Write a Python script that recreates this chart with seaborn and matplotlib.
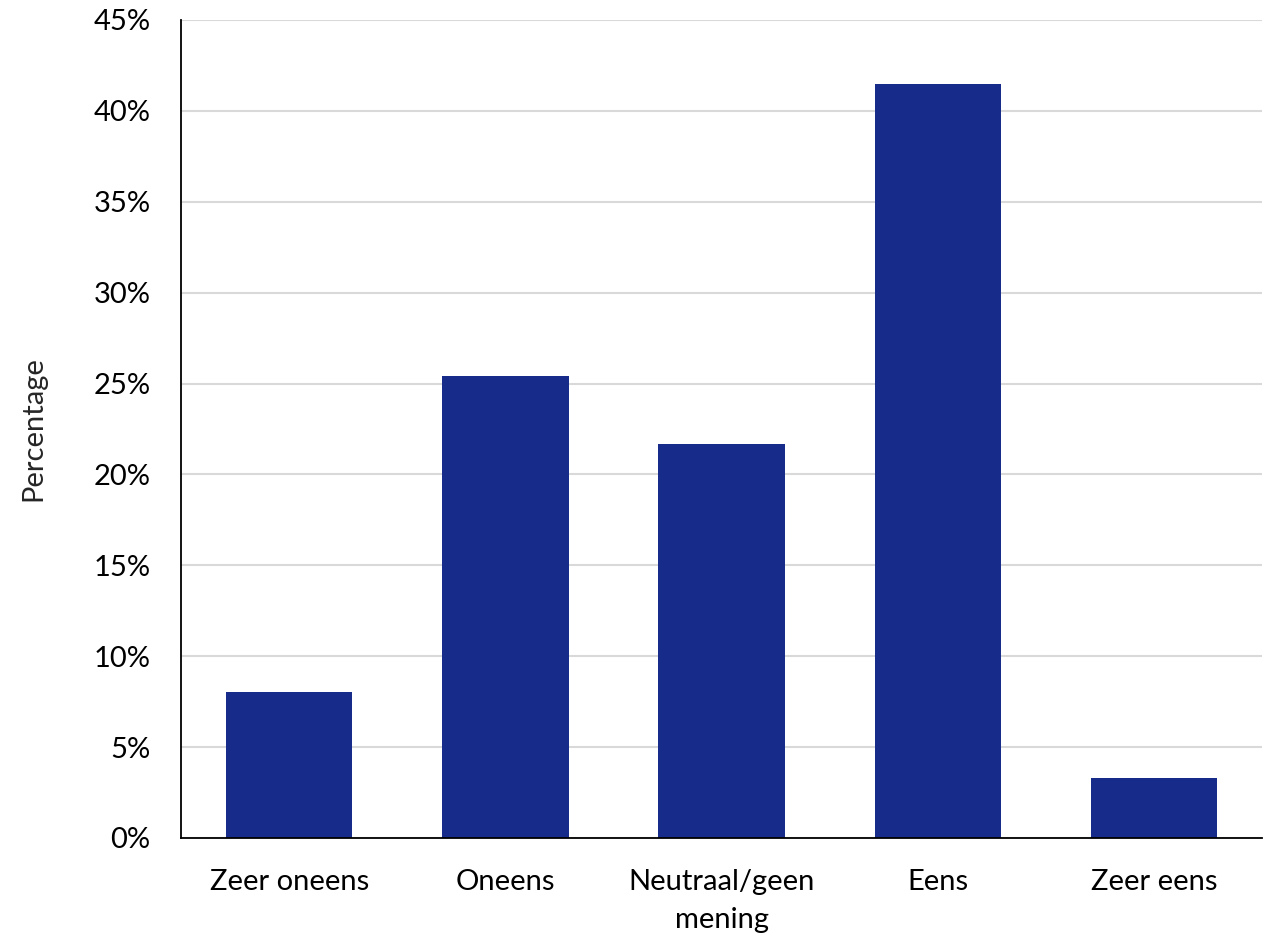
import matplotlib
matplotlib.use("Agg")
import matplotlib.pyplot as plt
import seaborn as sns
import pandas as pd
from matplotlib.ticker import PercentFormatter, MultipleLocator

categories = ["Zeer oneens", "Oneens", "Neutraal/geen\nmening", "Eens", "Zeer eens"]
values = [8.05, 25.4, 21.7, 41.5, 3.3]

sns.set_style("white")
plt.rcParams['font.family'] = ['Lato', 'DejaVu Sans']

df = pd.DataFrame({"cat": categories, "val": values})

fig = plt.figure(figsize=(12.66, 9.34), dpi=100)
ax = fig.add_axes([0.143, 0.1028, 0.854, 0.8758])
sns.barplot(data=df, x="cat", y="val", color="#172B8A", saturation=1, width=0.585,
            linewidth=0, ax=ax)

ax.set_ylim(0, 45)
ax.set_xlim(-0.5, 4.5)
ax.yaxis.set_major_locator(MultipleLocator(5))
ax.yaxis.set_major_formatter(PercentFormatter(decimals=0))
ax.grid(axis="y", color="#d9d9d9", linewidth=1.5)
ax.set_axisbelow(True)
for s in ["top", "right"]:
    ax.spines[s].set_visible(False)
for s in ["left", "bottom"]:
    ax.spines[s].set_color("black")
    ax.spines[s].set_linewidth(1.3)
ax.tick_params(axis="both", length=0, labelsize=21, colors="black")
ax.tick_params(axis="y", pad=22)
ax.tick_params(axis="x", pad=22)
for lbl in ax.get_xticklabels():
    lbl.set_linespacing(1.6)
ax.set_xlabel("")
ax.set_ylabel("Percentage", fontsize=21)
ax.yaxis.set_label_coords(-0.125, 0.5)

fig.savefig("out.png", dpi=100)
